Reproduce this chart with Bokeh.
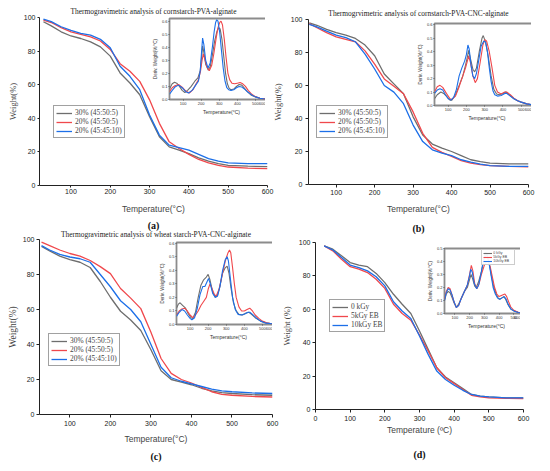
from bokeh.plotting import figure
from bokeh.models import Column, Legend, LegendItem, Title, FixedTicker, Range1d, PrintfTickFormatter
from bokeh.embed import file_html
from bokeh.resources import INLINE

# ------------------------------------------------------------------ data
labels_abc = ["30% (45:50:5)", "20% (45:50:5)", "20% (45:45:10)"]
labels_d = ["0 kGy", "5kGy EB", "10kGy EB"]
titles = ["Thermogravimetric analysis of cornstarch-PVA-alginate",
          "Thermogrvimetric analysis of cornstarch-PVA-CNC-alginate",
          "Thermogravimetric analysis of wheat starch-PVA-CNC-alginate",
          ""]
captions = ["(a)", "(b)", "(c)", "(d)"]
main_xticks_abc = [100, 200, 300, 400, 500, 600]
main_xticks_d = [0, 100, 200, 300, 400, 500, 600]
main_yticks = [0, 20, 40, 60, 80, 100]
inset_xticks = [100, 200, 300, 400, 500, 600]
inset_yticks_abc = [0.0, 0.1, 0.2, 0.3, 0.4, 0.5, 0.6]
inset_yticks_d = [0.0, 0.1, 0.2, 0.3, 0.4, 0.5]

# TG curves (weight %)
tg_T = [30, 50, 75, 100, 125, 150, 175, 200, 225, 250, 275, 300, 325, 350, 375, 400, 425, 450, 475, 500, 550, 600]
tg_a_gray = [97.5, 95, 91.5, 89, 87.5, 85.5, 82.5, 77, 67, 61, 54, 41, 29, 23, 21, 19, 16.5, 14.5, 13, 12, 11.5, 11.2]
tg_a_red = [98.5, 97, 94, 91.5, 90, 88.5, 86, 81, 72.5, 68, 62, 51, 37, 26, 22, 18.5, 15.5, 13.5, 12, 11, 10.3, 10]
tg_a_blue = [99, 97.5, 94.5, 92.3, 90.5, 89.5, 87, 82, 71, 65, 57, 42, 30, 24, 22.5, 21, 18.5, 16, 14.5, 13.5, 13, 13]
tg_b_gray = [98, 96.5, 94, 92, 90.5, 88.5, 84.5, 78, 67, 61, 55, 41, 30, 24.5, 22, 20, 17.5, 15, 13.8, 13, 12.5, 12.5]
tg_b_red = [97.5, 95, 92, 89.5, 88, 86.5, 81, 73, 64, 59.5, 55, 44, 31, 22.5, 19.5, 17, 14.5, 13, 12, 11.5, 11, 10.7]
tg_b_blue = [97, 95.5, 93, 90.5, 89, 86.5, 79, 70, 60, 56, 49, 36, 26, 21, 19, 17.5, 15, 13.5, 12.3, 11.5, 11, 11]
tg_c_gray = [96, 93.5, 90.5, 88.5, 87, 84, 76, 67, 59, 54, 48, 37, 25, 20, 18.5, 17, 15, 13.5, 12.5, 12, 11.3, 11]
tg_c_red = [98.5, 96.5, 94, 92, 90.5, 88, 84.5, 80.5, 72, 66.5, 60.5, 47, 32, 23.5, 20, 18, 15.5, 13, 11.5, 11, 10.3, 10]
tg_c_blue = [96.5, 94, 91.5, 90, 89, 87, 80, 73, 65, 60, 53, 40, 27, 21, 19, 17.5, 16, 14.5, 13.5, 13, 12.3, 12]
tg_d_T = [25, 50, 75, 100, 125, 150, 175, 200, 225, 250, 275, 300, 325, 350, 375, 400, 425, 450, 475, 500, 550, 600]
tg_d_gray = [98, 96, 92, 88, 86.5, 85.5, 81.5, 76, 69, 63, 57.5, 47, 36, 25, 19.5, 16, 12.5, 9, 8, 7.5, 7, 7]
tg_d_red = [98, 95, 90, 85.5, 84, 82, 78, 72.5, 63, 57.5, 53.5, 44.5, 35, 25, 19, 15.5, 12, 8.5, 7.5, 7, 6.7, 6.5]
tg_d_blue = [98, 95.5, 91, 86.5, 85, 83, 79.5, 74, 64.5, 59, 54.5, 44, 33, 23, 18, 14.5, 11.5, 9, 8, 7.5, 7, 7]

# DTG curves (deriv. weight %/degC)
dtg_a_gray_T = [25, 40, 53, 65, 80, 95, 110, 125, 145, 165, 182, 195, 203, 208, 215, 225, 239, 250, 262, 275, 287, 297, 305, 315, 325, 335, 345, 355, 365, 380, 395, 410, 425, 440, 455, 475, 500, 525, 550, 575, 600]
dtg_a_gray = [0.08, 0.12, 0.132, 0.125, 0.1, 0.07, 0.054, 0.07, 0.1, 0.14, 0.165, 0.22, 0.33, 0.41, 0.36, 0.27, 0.225, 0.25, 0.34, 0.45, 0.52, 0.55, 0.54, 0.46, 0.33, 0.2, 0.12, 0.085, 0.075, 0.08, 0.1, 0.115, 0.11, 0.085, 0.06, 0.035, 0.02, 0.01, 0.005, 0.003, 0.002]
dtg_a_red_T = [25, 40, 55, 75, 95, 115, 135, 155, 172, 185, 197, 205, 212, 220, 232, 245, 258, 270, 282, 293, 303, 310, 318, 328, 338, 348, 358, 370, 385, 400, 415, 430, 445, 460, 480, 500, 525, 550, 575, 600]
dtg_a_red = [0.06, 0.09, 0.105, 0.115, 0.095, 0.065, 0.05, 0.075, 0.12, 0.15, 0.22, 0.3, 0.35, 0.31, 0.25, 0.22, 0.26, 0.35, 0.46, 0.55, 0.59, 0.6, 0.57, 0.46, 0.32, 0.2, 0.15, 0.125, 0.12, 0.125, 0.13, 0.12, 0.1, 0.07, 0.04, 0.022, 0.01, 0.005, 0.003, 0.002]
dtg_a_blue_T = [25, 40, 55, 75, 95, 115, 130, 150, 170, 185, 195, 202, 208, 215, 225, 238, 250, 262, 272, 280, 286, 293, 302, 312, 322, 332, 342, 352, 365, 380, 395, 410, 425, 440, 460, 480, 500, 525, 550, 575, 600]
dtg_a_blue = [0.04, 0.07, 0.095, 0.11, 0.09, 0.06, 0.05, 0.07, 0.11, 0.14, 0.22, 0.36, 0.47, 0.42, 0.3, 0.24, 0.28, 0.4, 0.52, 0.59, 0.61, 0.6, 0.52, 0.38, 0.24, 0.14, 0.09, 0.075, 0.07, 0.075, 0.09, 0.1, 0.095, 0.08, 0.055, 0.035, 0.02, 0.01, 0.004, 0.002, 0.001]

dtg_b_gray_T = [25, 40, 60, 75, 90, 110, 120, 140, 160, 180, 195, 205, 212, 220, 235, 245, 255, 270, 285, 292, 305, 320, 335, 350, 365, 380, 400, 415, 435, 460, 480, 500, 530, 560, 600]
dtg_b_gray = [0.05, 0.08, 0.1, 0.09, 0.07, 0.04, 0.04, 0.08, 0.15, 0.22, 0.3, 0.36, 0.41, 0.36, 0.27, 0.25, 0.28, 0.40, 0.50, 0.52, 0.47, 0.36, 0.22, 0.12, 0.085, 0.08, 0.09, 0.1, 0.08, 0.05, 0.035, 0.025, 0.012, 0.005, 0.002]
dtg_b_red_T = [25, 40, 55, 70, 90, 110, 120, 140, 160, 180, 195, 205, 212, 222, 235, 248, 260, 275, 290, 300, 310, 325, 340, 355, 370, 390, 410, 420, 440, 460, 480, 500, 530, 560, 600]
dtg_b_red = [0.1, 0.14, 0.15, 0.135, 0.09, 0.05, 0.045, 0.07, 0.14, 0.22, 0.28, 0.33, 0.37, 0.32, 0.22, 0.17, 0.2, 0.32, 0.45, 0.49, 0.48, 0.4, 0.28, 0.15, 0.1, 0.085, 0.1, 0.1, 0.08, 0.055, 0.035, 0.025, 0.012, 0.005, 0.002]
dtg_b_blue_T = [25, 40, 55, 70, 85, 100, 115, 130, 145, 160, 175, 190, 200, 208, 215, 225, 235, 245, 255, 270, 280, 295, 305, 315, 325, 335, 345, 355, 370, 390, 410, 420, 440, 460, 480, 500, 530, 560, 600]
dtg_b_blue = [0.09, 0.115, 0.125, 0.115, 0.08, 0.05, 0.04, 0.06, 0.12, 0.22, 0.28, 0.33, 0.38, 0.45, 0.42, 0.30, 0.22, 0.2, 0.24, 0.36, 0.44, 0.48, 0.47, 0.40, 0.28, 0.18, 0.11, 0.08, 0.07, 0.075, 0.09, 0.09, 0.07, 0.05, 0.035, 0.025, 0.012, 0.005, 0.002]

dtg_c_gray_T = [25, 35, 45, 60, 75, 90, 105, 115, 130, 145, 160, 175, 190, 200, 210, 225, 240, 250, 265, 280, 295, 305, 315, 325, 340, 355, 370, 390, 410, 425, 440, 460, 490, 520, 560, 600]
dtg_c_gray = [0.12, 0.15, 0.16, 0.14, 0.12, 0.08, 0.05, 0.045, 0.09, 0.2, 0.29, 0.33, 0.35, 0.37, 0.33, 0.24, 0.2, 0.21, 0.28, 0.38, 0.42, 0.43, 0.38, 0.28, 0.16, 0.1, 0.075, 0.07, 0.085, 0.09, 0.075, 0.05, 0.025, 0.012, 0.004, 0.002]
dtg_c_red_T = [25, 40, 55, 70, 85, 100, 115, 130, 145, 160, 175, 190, 200, 210, 220, 235, 245, 260, 280, 295, 310, 318, 325, 335, 345, 355, 370, 385, 400, 415, 430, 445, 460, 480, 500, 530, 560, 600]
dtg_c_red = [0.07, 0.1, 0.115, 0.12, 0.1, 0.07, 0.05, 0.07, 0.1, 0.14, 0.17, 0.2, 0.26, 0.3, 0.27, 0.22, 0.21, 0.26, 0.38, 0.47, 0.53, 0.55, 0.53, 0.42, 0.3, 0.2, 0.13, 0.1, 0.1, 0.11, 0.12, 0.1, 0.07, 0.045, 0.025, 0.01, 0.004, 0.002]
dtg_c_blue_T = [25, 40, 55, 70, 85, 100, 110, 125, 140, 155, 170, 182, 192, 202, 212, 225, 240, 252, 265, 280, 295, 305, 312, 322, 335, 350, 365, 385, 405, 420, 430, 445, 465, 490, 520, 560, 600]
dtg_c_blue = [0.06, 0.09, 0.11, 0.1, 0.07, 0.045, 0.035, 0.05, 0.12, 0.22, 0.28, 0.28, 0.31, 0.34, 0.3, 0.23, 0.2, 0.21, 0.28, 0.4, 0.48, 0.5, 0.47, 0.35, 0.2, 0.11, 0.075, 0.07, 0.08, 0.09, 0.09, 0.075, 0.05, 0.025, 0.01, 0.004, 0.002]

dtg_d_gray_T = [30, 42, 55, 68, 82, 95, 110, 125, 145, 165, 185, 200, 210, 220, 235, 245, 260, 280, 300, 312, 320, 335, 350, 365, 380, 395, 405, 420, 432, 445, 460, 480, 500, 530, 560, 600]
dtg_d_gray = [0.10, 0.15, 0.17, 0.16, 0.12, 0.08, 0.05, 0.07, 0.12, 0.17, 0.2, 0.26, 0.3, 0.27, 0.21, 0.2, 0.24, 0.32, 0.42, 0.45, 0.44, 0.38, 0.28, 0.2, 0.15, 0.115, 0.11, 0.12, 0.13, 0.11, 0.07, 0.035, 0.02, 0.01, 0.004, 0.002]
dtg_d_red_T = [30, 42, 55, 68, 82, 95, 110, 125, 145, 165, 185, 200, 212, 222, 235, 250, 265, 280, 300, 315, 325, 340, 355, 370, 385, 400, 420, 440, 452, 465, 480, 500, 530, 560, 600]
dtg_d_red = [0.11, 0.17, 0.2, 0.19, 0.14, 0.09, 0.045, 0.06, 0.12, 0.17, 0.22, 0.3, 0.37, 0.33, 0.23, 0.19, 0.23, 0.3, 0.37, 0.4, 0.4, 0.36, 0.28, 0.2, 0.15, 0.13, 0.14, 0.15, 0.13, 0.09, 0.05, 0.025, 0.01, 0.004, 0.002]
dtg_d_blue_T = [30, 42, 55, 68, 82, 95, 110, 125, 145, 165, 185, 200, 208, 218, 232, 248, 262, 280, 295, 308, 318, 330, 345, 360, 375, 390, 405, 420, 435, 448, 462, 480, 500, 530, 560, 600]
dtg_d_blue = [0.10, 0.16, 0.19, 0.18, 0.14, 0.09, 0.045, 0.06, 0.12, 0.17, 0.22, 0.29, 0.34, 0.32, 0.23, 0.19, 0.22, 0.32, 0.42, 0.47, 0.46, 0.4, 0.3, 0.2, 0.15, 0.12, 0.11, 0.12, 0.13, 0.11, 0.07, 0.035, 0.02, 0.008, 0.003, 0.001]

# ------------------------------------------------------------------ style
GRAY = "#6e6e6e"
RED = "#f0484c"
BLUE = "#1c6fe8"
SERIF = "Liberation Serif"
SANS = "Liberation Sans"

SX = 534 / 550
SY = 455 / 471
DY = 5


def gx(v):
    return int(round(v * SX))


def gy(v):
    return int(round(v * SY))


def base_fig(frame, borders, xr, yr):
    """frame = (L, T, R, B) in reference px; borders = (left, top, right, bottom) px."""
    fx0, fy0, fx1, fy1 = gx(frame[0]), gy(frame[1]), gx(frame[2]), gy(frame[3])
    bl, bt, br, bb = borders
    p = figure(frame_width=fx1 - fx0, frame_height=fy1 - fy0,
               x_range=Range1d(*xr), y_range=Range1d(*yr),
               output_backend="svg", toolbar_location=None,
               min_border_left=bl, min_border_right=br,
               min_border_top=bt, min_border_bottom=bb)
    p.styles = {"position": "absolute", "left": f"{fx0 - bl}px", "top": f"{fy0 - bt + DY}px"}
    p.grid.visible = False
    return p


def xlabel_for(caption):
    return "Temperature (\u00baC)" if caption == "(d)" else "Temperature(\u00b0C)"


def main_panel(frame, xr, xticks, title, ylabel, caption, series, labels,
               leg_loc, ax):
    p = base_fig(frame, (ax["bl"], 16, 12, ax["bb"]), xr, (0, 100))
    p.outline_line_color = None
    p.background_fill_color = "white"
    p.border_fill_alpha = 0.0
    if title:
        p.title.text = title
        p.title.text_font = SERIF
        p.title.text_font_size = "7.4px"
        p.title.text_font_style = "normal"
        p.title.align = "center"
        p.title.standoff = ax["tstand"]
        p.title.text_color = "#222222"
    else:
        p.title.visible = False
    p.xaxis.ticker = FixedTicker(ticks=xticks)
    p.yaxis.ticker = FixedTicker(ticks=main_yticks)
    for a in (p.xaxis[0], p.yaxis[0]):
        a.axis_line_color = "#222222"
        a.major_tick_line_color = "#222222"
        a.major_tick_in = 0
        a.minor_tick_line_color = None
        a.major_label_text_font = SANS
        a.major_label_text_font_size = "7px"
        a.major_label_text_color = "#222222"
    p.xaxis.major_tick_out = ax["xto"]
    p.yaxis.major_tick_out = ax["yto"]
    p.xaxis.major_label_standoff = ax["xls"]
    p.yaxis.major_label_standoff = ax["yls"]
    p.xaxis.axis_label = xlabel_for(caption)
    p.xaxis.axis_label_text_font = SANS
    p.xaxis.axis_label_text_font_size = "8.5px"
    p.xaxis.axis_label_text_font_style = "normal"
    p.xaxis.axis_label_standoff = ax["xas"]
    p.yaxis.axis_label = ylabel
    p.yaxis.axis_label_text_font = SERIF
    p.yaxis.axis_label_text_font_size = ax["yfs"]
    p.yaxis.axis_label_text_font_style = "normal"
    p.yaxis.axis_label_standoff = ax["yas"]
    items = []
    for (xs, ys, col), lab in zip(series, labels):
        r = p.line(xs, ys, line_color=col, line_width=1.3)
        items.append(LegendItem(label=lab, renderers=[r]))
    leg = Legend(items=items, location=(gx(leg_loc[0]), gy(leg_loc[1])))
    leg.label_text_font = SERIF
    leg.label_text_font_size = "7.4px"
    leg.label_height = 8
    leg.glyph_height = 8
    leg.glyph_width = 16
    leg.label_standoff = 3
    leg.spacing = 0
    leg.padding = 2
    leg.margin = 0
    leg.border_line_color = "#444444"
    leg.border_line_width = 0.8
    leg.background_fill_color = "white"
    leg.background_fill_alpha = 1.0
    p.add_layout(leg)
    cap = Title(text=caption, align="center", text_font=SERIF, text_font_size="10px",
                text_font_style="bold", standoff=ax["cstand"], text_color="#111111")
    p.add_layout(cap, "below")
    return p


def inset_panel(frame, xr, yr, yticks, series, labels=None):
    p = base_fig(frame, (22, 4, 9, 18), xr, yr)
    p.outline_line_color = "#8c8c8c"
    p.outline_line_width = 1.8
    p.background_fill_color = "white"
    p.border_fill_alpha = 0.0
    p.title.visible = False
    p.xaxis.ticker = FixedTicker(ticks=inset_xticks)
    p.yaxis.ticker = FixedTicker(ticks=yticks)
    p.yaxis.formatter = PrintfTickFormatter(format="%.1f")
    for a in (p.xaxis[0], p.yaxis[0]):
        a.axis_line_color = None
        a.major_tick_line_color = "#555555"
        a.major_tick_in = 0
        a.major_tick_out = 1
        a.minor_tick_line_color = None
        a.major_label_text_font = SANS
        a.major_label_text_font_size = "4px"
        a.major_label_standoff = 1
        a.major_label_text_color = "#333333"
        a.axis_label_text_font = SANS
        a.axis_label_text_font_style = "normal"
        a.axis_label_text_color = "#333333"
        a.axis_label_standoff = 1
    p.xaxis.axis_label = "Temperature(\u00b0C)"
    p.xaxis.axis_label_text_font_size = "5px"
    p.yaxis.axis_label = "Deriv. Weight(%/\u00b0C)"
    p.yaxis.axis_label_text_font_size = "4.5px"
    items = []
    for (xs, ys, col) in series:
        r = p.line(xs, ys, line_color=col, line_width=1.1)
        items.append(r)
    if labels:
        leg = Legend(items=[LegendItem(label=l, renderers=[r]) for l, r in zip(labels, items)],
                     location="top_right")
        leg.label_text_font = SANS
        leg.label_text_font_size = "3.5px"
        leg.label_height = 4
        leg.glyph_height = 4
        leg.glyph_width = 9
        leg.label_standoff = 1
        leg.spacing = 0
        leg.padding = 1
        leg.margin = 1
        leg.border_line_color = "#999999"
        leg.border_line_width = 0.5
        p.add_layout(leg)
    return p


# ------------------------------------------------------------------ panels
AX_A = dict(bl=32, bb=60, tstand=3, xto=2, yto=2, xls=1, yls=2, xas=7, yas=3, yfs="8.5px", cstand=3)
AX_B = dict(bl=36, bb=60, tstand=3, xto=3, yto=3, xls=2, yls=3, xas=6, yas=5, yfs="8.5px", cstand=9)
AX_C = dict(bl=32, bb=48, tstand=1, xto=3, yto=3, xls=3, yls=2, xas=5, yas=2, yfs="9.5px", cstand=5)
AX_D = dict(bl=36, bb=52, tstand=1, xto=3, yto=3, xls=3, yls=2, xas=1, yas=4, yfs="8.5px", cstand=19)

pa = main_panel((33, 12, 268, 186), (20, 600), main_xticks_abc, titles[0],
                "Weight(%)", captions[0],
                [(tg_T, tg_a_gray, GRAY), (tg_T, tg_a_red, RED), (tg_T, tg_a_blue, BLUE)],
                labels_abc, (14, 49), AX_A)
pb = main_panel((314, 15, 541, 185), (28, 600), main_xticks_abc, titles[1],
                "Weight(%)", captions[1],
                [(tg_T, tg_b_gray, GRAY), (tg_T, tg_b_red, RED), (tg_T, tg_b_blue, BLUE)],
                labels_abc, (8, 48), AX_B)
pc = main_panel((33, 242, 273, 423), (25, 600), main_xticks_abc, titles[2],
                "Weight(%)", captions[2],
                [(tg_T, tg_c_gray, GRAY), (tg_T, tg_c_red, RED), (tg_T, tg_c_blue, BLUE)],
                labels_abc, (9, 50), AX_C)
pd_ = main_panel((321, 245, 536, 418), (0, 600), main_xticks_d, titles[3],
                 "Weight (%)", captions[3],
                 [(tg_d_T, tg_d_gray, GRAY), (tg_d_T, tg_d_red, RED), (tg_d_T, tg_d_blue, BLUE)],
                 labels_d, (14, 80), AX_D)

ia = inset_panel((157, 13, 264, 97), (25, 600), (0, 0.62), inset_yticks_abc,
                 [(dtg_a_gray_T, dtg_a_gray, GRAY), (dtg_a_red_T, dtg_a_red, RED),
                  (dtg_a_blue_T, dtg_a_blue, BLUE)])
ib = inset_panel((429, 19, 538, 104), (25, 600), (0, 0.61), inset_yticks_abc,
                 [(dtg_b_gray_T, dtg_b_gray, GRAY), (dtg_b_red_T, dtg_b_red, RED),
                  (dtg_b_blue_T, dtg_b_blue, BLUE)])
ic = inset_panel((164, 245, 271, 330), (25, 600), (0, 0.605), inset_yticks_abc,
                 [(dtg_c_gray_T, dtg_c_gray, GRAY), (dtg_c_red_T, dtg_c_red, RED),
                  (dtg_c_blue_T, dtg_c_blue, BLUE)])
idd = inset_panel((440, 252, 526, 319), (30, 600), (0, 0.5), inset_yticks_d,
                  [(dtg_d_gray_T, dtg_d_gray, GRAY), (dtg_d_red_T, dtg_d_red, RED),
                   (dtg_d_blue_T, dtg_d_blue, BLUE)], labels_d)

root = Column(children=[pa, pb, pc, pd_, ia, ib, ic, idd], width=534, height=455,
              styles={"position": "relative"})

open("out.html", "w").write(file_html(root, INLINE))
